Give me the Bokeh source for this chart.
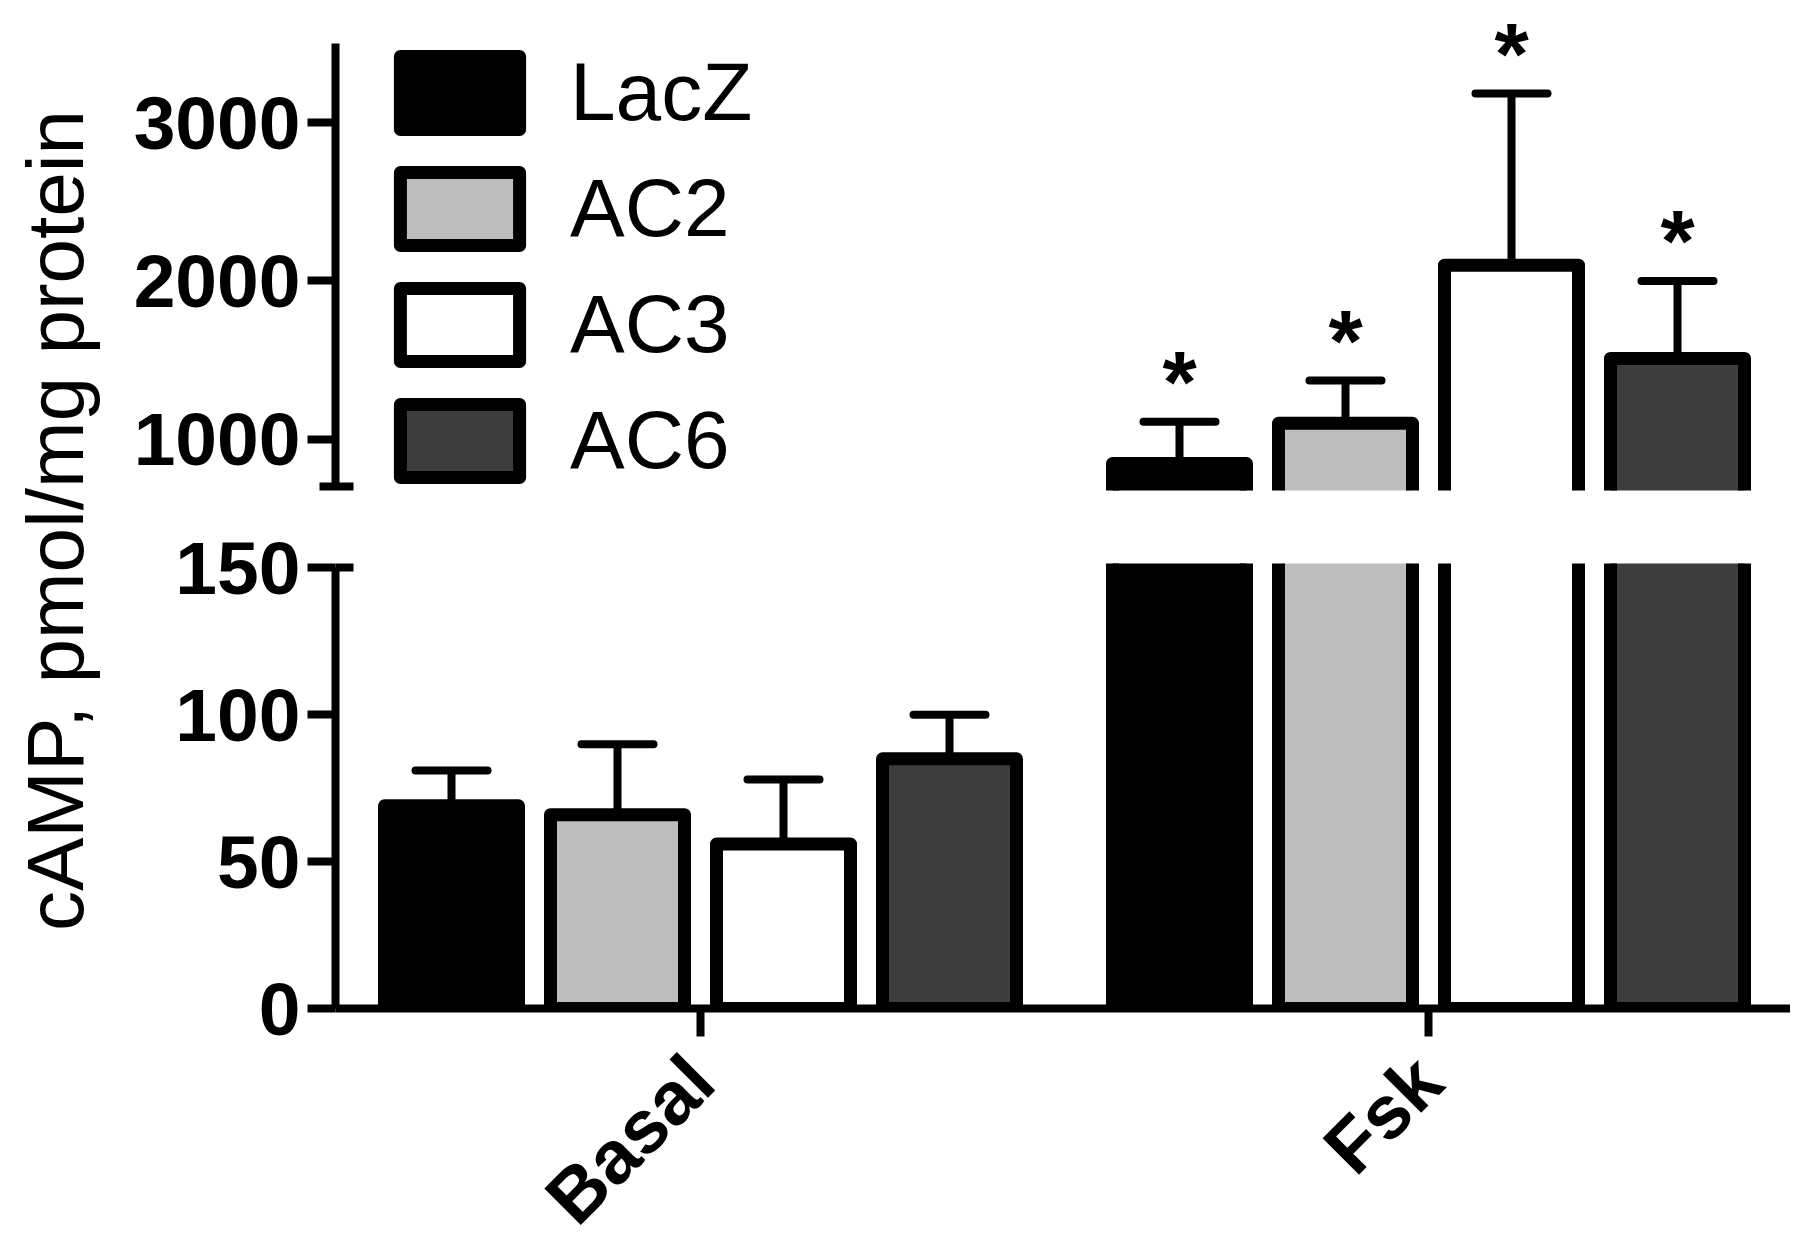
import math
from bokeh.plotting import figure
from bokeh.models import Range1d, FixedTicker, Legend, LegendItem, ColumnDataSource
from bokeh.layouts import row, column
from bokeh.embed import file_html
from bokeh.resources import INLINE
from bokeh.core.properties import value

# ---------------- data ----------------
groups = ["Basal", "Fsk"]
series = ["LacZ", "AC2", "AC3", "AC6"]
colors = ["#000000", "#bdbdbd", "#ffffff", "#3d3d3d"]
basal_mean = [69, 66, 56, 85]
basal_sem = [12, 24, 22, 15]
fsk_mean = [845, 1100, 2100, 1510]
fsk_sem = [265, 270, 1085, 490]
fsk_significant = [True, True, True, True]
lower_ticks = [0, 50, 100, 150]
upper_ticks = [1000, 2000, 3000]
lower_break = 150
upper_break = 700
upper_top = 3500
y_label = "cAMP, pmol/mg protein"

# ---------------- layout constants ----------------
FONT = "Liberation Sans"
GROUP_PX = 728
BAR_STEP_PX = 166
BAR_W_PX = 134
CAP_PX = 72
LABEL_W = 128
BORDER_L = 207
FRAME_W = 1455
x0 = -365 / GROUP_PX
xr = Range1d(x0, x0 + FRAME_W / GROUP_PX)
bar_step = BAR_STEP_PX / GROUP_PX
bar_w = BAR_W_PX / GROUP_PX
cap_half = CAP_PX / 2 / GROUP_PX
LW = 13
AX_LW = 8

means = [basal_mean, fsk_mean]
sems = [basal_sem, fsk_sem]


def series_source(j):
    xs = [gi + (j - 1.5) * bar_step for gi in range(len(groups))]
    tops = [means[gi][j] for gi in range(len(groups))]
    errs = [means[gi][j] + sems[gi][j] for gi in range(len(groups))]
    ox = [[x - bar_w / 2, x - bar_w / 2, x + bar_w / 2, x + bar_w / 2] for x in xs]
    oy = [[0, t, t, 0] for t in tops]
    return ColumnDataSource(dict(
        x=xs, top=tops, err=errs, ox=ox, oy=oy,
        cl=[x - cap_half for x in xs], cr=[x + cap_half for x in xs]))


def style_axis(ax):
    ax.axis_line_width = AX_LW
    ax.axis_line_color = "black"
    ax.major_tick_line_width = AX_LW
    ax.major_tick_line_color = "black"
    ax.minor_tick_line_width = AX_LW
    ax.minor_tick_line_color = "black"
    ax.major_tick_out = 28
    ax.major_tick_in = 0
    ax.major_label_text_font = FONT
    ax.major_label_text_font_size = "75px"
    ax.major_label_text_font_style = "bold"
    ax.major_label_text_color = "black"


def make_panel(y_start, y_end, frame_h, top_b, bot_b, with_x):
    p = figure(frame_width=FRAME_W, frame_height=frame_h, x_range=xr,
               y_range=Range1d(y_start, y_end), toolbar_location=None,
               output_backend="svg", min_border_left=BORDER_L, min_border_right=0,
               min_border_top=top_b, min_border_bottom=bot_b,
               x_axis_location="below" if with_x else None,
               outline_line_color=None)
    p.xgrid.grid_line_color = None
    p.ygrid.grid_line_color = None
    for j, s in enumerate(series):
        src = series_source(j)
        p.patches(xs="ox", ys="oy", source=src, fill_color=colors[j],
                  line_color="black", line_width=LW, line_join="round")
        p.segment(x0="x", y0="top", x1="x", y1="err", source=src,
                  line_color="black", line_width=AX_LW)
        p.segment(x0="cl", y0="err", x1="cr", y1="err", source=src,
                  line_color="black", line_width=AX_LW, line_cap="round")
    return p


# upper panel
upper = make_panel(675, 3660, 472, 18, 30, False)
ya = upper.yaxis[0]
style_axis(ya)
ya.ticker = FixedTicker(ticks=upper_ticks, minor_ticks=[upper_break])
ya.bounds = (upper_break, upper_top)
ya.minor_tick_in = 18
ya.minor_tick_out = 16
ya.major_label_standoff = 7

star_x = [1 + (j - 1.5) * bar_step for j in range(len(series)) if fsk_significant[j]]
star_y = [fsk_mean[j] + fsk_sem[j] for j in range(len(series)) if fsk_significant[j]]
upper.text(x=star_x, y=star_y, text=["*"] * len(star_x), text_align="center",
           text_baseline="alphabetic", y_offset=-40, text_font=value(FONT),
           text_font_size="88px", text_font_style="bold", text_color="black")

# legend swatches (hidden renderers that only carry the legend styling)
swatches = []
for j, s in enumerate(series):
    r = upper.vbar(x=[0], width=bar_w, top=[1], bottom=[0], fill_color=colors[j],
                   line_color="black", line_width=LW, line_join="round",
                   visible=False)
    swatches.append(r)

legend = Legend(items=[LegendItem(label=s, renderers=[r]) for s, r in zip(series, swatches)],
                location=(50, 3), padding=0, margin=0, spacing=22,
                glyph_width=149, glyph_height=91, label_standoff=36,
                label_text_font=FONT, label_text_font_size="82px",
                label_text_color="black", border_line_color=None,
                background_fill_alpha=0)
upper.add_layout(legend)

# lower panel
lower = make_panel(0, 151.5, 445, 43, 217, True)
la = lower.yaxis[0]
style_axis(la)
la.ticker = FixedTicker(ticks=lower_ticks, minor_ticks=[lower_break])
la.bounds = (0, lower_break)
la.minor_tick_in = 18
la.minor_tick_out = 0
la.major_label_standoff = 7

xa = lower.xaxis[0]
style_axis(xa)
xa.ticker = FixedTicker(ticks=list(range(len(groups))))
xa.major_label_overrides = {i: g for i, g in enumerate(groups)}
xa.major_label_orientation = math.pi / 4
xa.major_label_standoff = 32
xa.minor_tick_line_color = None

# y-axis title panel
H = 520 + 705
lab = figure(frame_width=LABEL_W, frame_height=H, x_range=Range1d(0, LABEL_W),
             y_range=Range1d(0, H), toolbar_location=None, output_backend="svg",
             min_border=0, x_axis_location=None, y_axis_location=None,
             outline_line_color=None)
lab.xgrid.grid_line_color = None
lab.ygrid.grid_line_color = None
lab.text(x=[55], y=[H - 520], text=[y_label], angle=math.pi / 2, text_align="center",
         text_baseline="middle", text_font=value(FONT), text_font_size="80px",
         text_color="black")

layout = row(lab, column(upper, lower))
open("out.html", "w").write(file_html(layout, INLINE))
